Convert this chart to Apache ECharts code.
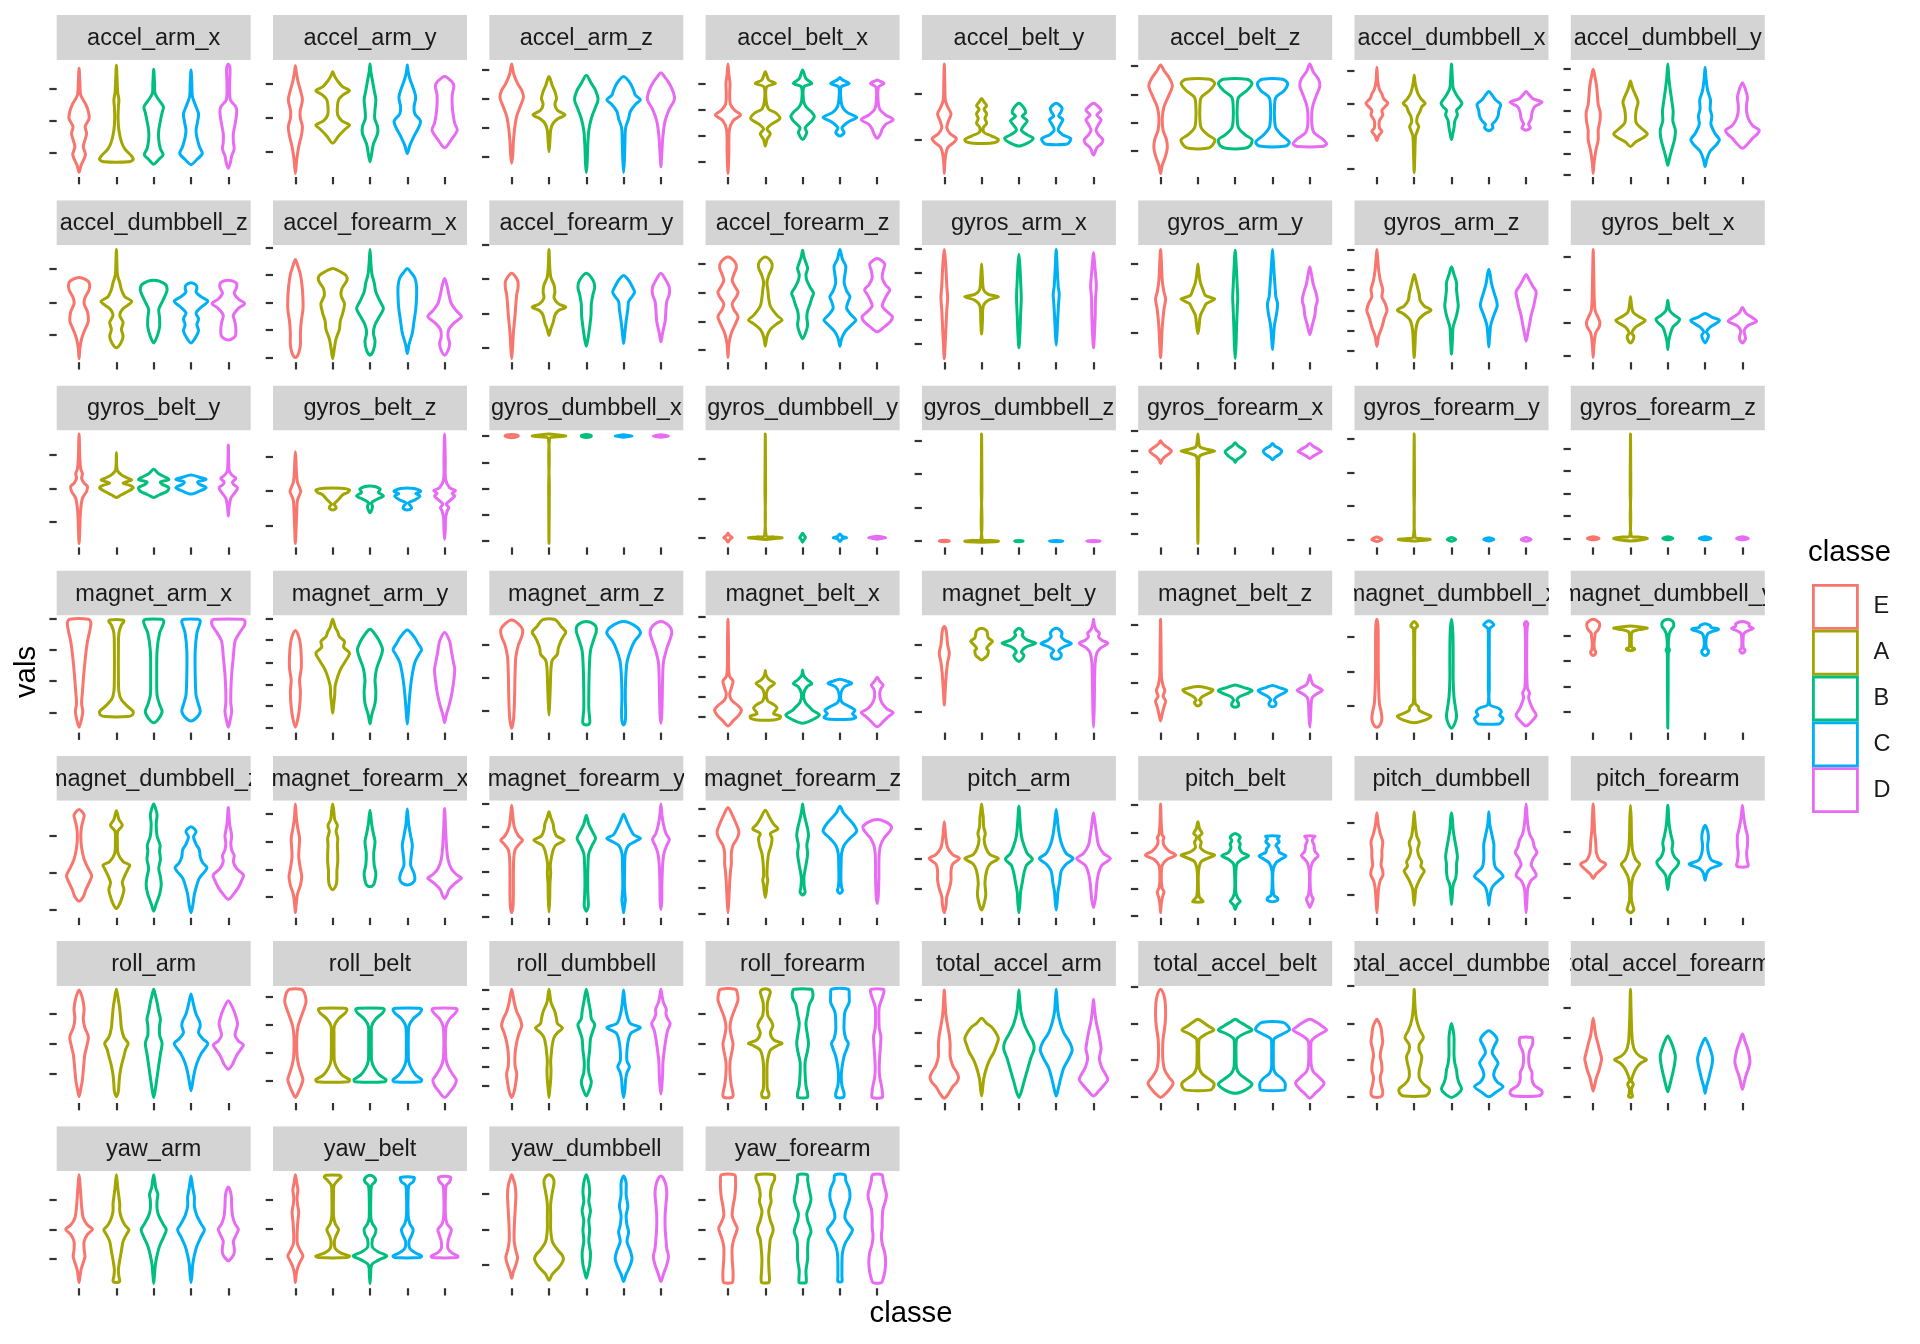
<!DOCTYPE html>
<html><head><meta charset="utf-8">
<script src="https://cdn.jsdelivr.net/npm/echarts@6/dist/echarts.min.js"></script>
<style>html,body{margin:0;padding:0;background:#fff}#c{width:1920px;height:1344px}</style>
</head><body><div id="c"></div>
<script>
const panels = ['accel_arm_x','accel_arm_y','accel_arm_z','accel_belt_x','accel_belt_y','accel_belt_z','accel_dumbbell_x','accel_dumbbell_y',
'accel_dumbbell_z','accel_forearm_x','accel_forearm_y','accel_forearm_z','gyros_arm_x','gyros_arm_y','gyros_arm_z','gyros_belt_x',
'gyros_belt_y','gyros_belt_z','gyros_dumbbell_x','gyros_dumbbell_y','gyros_dumbbell_z','gyros_forearm_x','gyros_forearm_y','gyros_forearm_z',
'magnet_arm_x','magnet_arm_y','magnet_arm_z','magnet_belt_x','magnet_belt_y','magnet_belt_z','magnet_dumbbell_x','magnet_dumbbell_y',
'magnet_dumbbell_z','magnet_forearm_x','magnet_forearm_y','magnet_forearm_z','pitch_arm','pitch_belt','pitch_dumbbell','pitch_forearm',
'roll_arm','roll_belt','roll_dumbbell','roll_forearm','total_accel_arm','total_accel_belt','total_accel_dumbbell','total_accel_forearm',
'yaw_arm','yaw_belt','yaw_dumbbell','yaw_forearm'];
const classes = ['E','A','B','C','D'];
const classColors = ['#F8766D','#A3A500','#00BF7D','#00B0F6','#E76BF3'];
const xTicks = [1,2,3,4,5];
// y tick positions (percent of each free y range)
const yTicks = [
[75.8,48.4,21.1],[80,50.7,21.4],[91.5,66.7,42.2,17.4],[80,57.8,35.3,13.1],[70.9,31.6],[94.9,70.7,46.4,22.2],[90.9,63,35,6.8],[92.9,74.9,56.7,38.7,20.2,2.3],
[79.5,51,23.1],[98,74.4,51,27.4,4],[100,70.9,41.6,12.3],[84.3,59.5,35,10.3],[96.6,76.6,55.8,35.9,15.4],[83.8,54.4,25.4],[95.7,78.6,61.5,43.9,26.8,9.7],[90,61.5,33.6,5.4],
[78.9,50.4,21.9],[77.5,48.1,18.2],[95.2,72.6,50.4,28.2,6],[76,41.9,8.3],[91.2,62.7,33.9,5.4],[99.7,82.3,64.7,47,29,11.4],[92.6,64.1,35.3,6.8],[84,65.2,46.2,26.8,7.7],
[97.7,70.7,44.2,17.1],[97.7,79.2,60.1,41.3,22.8,4.3],[75.5,47.3,18.8],[99,82,65,47.9,30.8,13.7],[75.5,47,18],[92,67,42.2,17.1],[82,52.1,22.8],[82.6,61.3,39.3,17.4],
[70.4,38.5,6.6],[88.6,65,41.3,18],[97.7,77.8,58.7,39.3,19.9,0.9],[92.9,70.4,48.4,25.9,3.7],[76.4,50.7,25.1],[96.3,72.6,48.7,25.1,1.4],[81.5,50.7,19.9],[73.5,45.9,17.4],
[76.6,51,25.4],[90.9,67.2,43,19.1],[97.2,80.9,63.8,47.6,31,14.5],[76.6,51,25.4],[88.6,60.1,31.9,3.4],[99.4,68.1,36.8,5.4],[100,68.1,36.8,5.4],[81.5,56.1,30.5,5.4],
[75.5,49.9,24.8],[76,50.4,25.4],[80.3,49.6,19.9],[76,49.9,24.8]];

// violin profiles: flat [y, halfWidth, y, halfWidth, ...], y in % of panel range, halfWidth relative (1 = widest)
const violinE = [
[4,0,10,0.12,19,0.38,26,0.25,37,0.45,43,0.36,50,0.6,56,0.55,62,0.4,70,0.1,80,0.05,93,0],
[3,0,15,0.08,26,0.2,35,0.35,43,0.42,50,0.3,56,0.28,66,0.42,74,0.3,82,0.15,90,0.05,95,0],
[11.7,0,20,0.07,30,0.1,42,0.18,52,0.3,60,0.5,68,0.7,74,0.6,80,0.35,88,0.12,96.6,0],
[3,0,20,0.05,40,0.08,48,0.3,53,0.75,57,0.4,62,0.15,70,0.1,80,0.12,88,0.05,96.6,0],
[3,0,15,0.05,25,0.2,30,0.6,33,0.72,37,0.35,42,0.15,48,0.25,54,0.4,60,0.2,66,0.06,80,0.03,96.6,0],
[3,0,10,0.1,18,0.3,25,0.4,32,0.35,40,0.15,50,0.1,60,0.2,70,0.5,78,0.7,85,0.5,91,0.2,95.7,0],
[31,0,35,0.1,39,0.3,42,0.15,48,0.15,53,0.35,57,0.3,63,0.65,67,0.4,71,0.3,75,0.15,82,0.05,93.7,0],
[3,0,12,0.05,22,0.15,32,0.3,40,0.3,48,0.4,55,0.42,62,0.3,70,0.25,78,0.2,86,0.1,92,0],
[3,0,12,0.05,20,0.15,28,0.35,35,0.55,43,0.5,50,0.3,55,0.35,62,0.6,68,0.6,71,0.35,72.5,0],
[4,0,8,0.2,15,0.3,25,0.3,35,0.35,45,0.45,55,0.45,65,0.4,75,0.3,82,0.15,87.7,0],
[3,0,12,0.05,25,0.1,40,0.2,50,0.25,58,0.3,64,0.38,70,0.35,76,0],
[4,0,15,0.05,25,0.2,33,0.45,39,0.6,45,0.35,50,0.25,56,0.5,60,0.6,65,0.4,70,0.25,75,0.35,81,0.5,86,0.4,90,0],
[3,0,15,0.05,30,0.1,45,0.15,55,0.2,65,0.15,80,0.1,90,0.05,96.3,0],
[4,0,15,0.05,30,0.1,45,0.2,54,0.3,60,0.2,70,0.1,85,0.05,96.3,0],
[13.7,0,22,0.1,30,0.3,38,0.45,44,0.6,50,0.5,56,0.3,62,0.35,70,0.2,80,0.1,88,0.05,96.3,0],
[4,0,15,0.05,25,0.15,30,0.35,34,0.4,38,0.3,44,0.12,55,0.06,70,0.04,85,0.02,96.3,0],
[3.4,0,15,0.04,30,0.08,42,0.2,48,0.45,52,0.5,55,0.3,59,0.15,63,0.2,67,0.1,75,0.05,96.9,0],
[3.4,0,15,0.04,30,0.08,40,0.12,45,0.25,48,0.32,51,0.25,56,0.12,65,0.06,75,0.03,81.8,0],
[93.8,0,94.5,0.3,95.2,0.4,96,0.3,96.6,0],
[4.5,0,7,0.12,8.3,0.25,10,0.1,12,0],
[4.8,0,5.4,0.3,6.1,0],
[71.8,0,75,0.1,78,0.3,80,0.5,82.3,0.65,84.5,0.5,86.5,0.3,89,0.1,91.2,0],
[5,0,6.2,0.25,6.8,0.3,7.5,0.25,8.8,0],
[6.5,0,7.7,0.35,9,0],
[4.6,0,10,0.12,18,0.22,25,0.15,35,0.2,50,0.28,65,0.38,78,0.5,88,0.65,94,0.7,96.9,0.55],
[4.6,0,12,0.15,22,0.25,35,0.3,45,0.25,55,0.35,65,0.35,75,0.3,82,0.2,87.2,0],
[3.7,0,10,0.1,20,0.15,35,0.18,50,0.2,65,0.25,75,0.4,82,0.6,88,0.65,93,0.4,96.3,0],
[5.7,0,10,0.3,15,0.65,19.4,0.8,23,0.6,28,0.2,33,0.1,38,0.2,44,0.3,48,0.1,55,0.04,75,0.03,96.9,0],
[23.6,0,35,0.05,50,0.12,60,0.2,67.8,0.3,75,0.2,83,0.15,88,0.1,90.6,0],
[10,0,16,0.1,22,0.2,27,0.3,31,0.15,36,0.25,40,0.15,48,0.05,70,0.03,96.9,0],
[4.6,0,7,0.2,12,0.3,18,0.25,25,0.15,40,0.1,60,0.08,80,0.08,92,0.06,96.9,0],
[65.8,0,67,0.12,69,0.15,71,0.08,76,0.05,82,0.1,85,0.12,88,0.3,91,0.38,94,0.35,96.9,0],
[14.2,0,18,0.25,24,0.4,30,0.6,36,0.75,42,0.55,50,0.3,60,0.15,70,0.1,78,0.15,84,0.25,88,0.3,92.6,0],
[4.3,0,12,0.05,20,0.12,28,0.3,35,0.38,42,0.3,52,0.2,60,0.22,68,0.25,76,0.15,85,0.06,97.2,0],
[4.3,0,10,0.08,20,0.1,35,0.1,50,0.12,58,0.2,63,0.45,66.4,0.65,70,0.4,78,0.15,88,0.06,96.3,0],
[4.3,0,15,0.05,30,0.1,40,0.15,46,0.2,55,0.2,62,0.3,68,0.55,73.5,0.65,80,0.5,88,0.25,94.3,0],
[4.3,0,10,0.1,18,0.15,25,0.3,32,0.4,40,0.4,46,0.5,50.7,0.9,54,0.5,60,0.2,70,0.08,82,0],
[4.3,0,12,0.04,18,0.12,22,0.2,26,0.08,35,0.04,45,0.1,50,0.4,53.6,0.9,57,0.5,62,0.2,66,0.15,68.4,0.2,71,0.1,80,0.04,97.2,0],
[4.3,0,15,0.05,25,0.1,32,0.2,36,0.35,40,0.35,45,0.25,52,0.3,58,0.3,65,0.35,72,0.2,80,0.08,89.7,0],
[33.6,0,37,0.15,41,0.45,45.9,0.75,49,0.4,55,0.2,65,0.15,75,0.08,85,0.05,97.2,0],
[5.4,0,12,0.1,20,0.2,28,0.25,36,0.3,42,0.35,48,0.45,56.7,0.55,64,0.35,72,0.25,80,0.3,86,0.25,92,0.15,96.6,0],
[4.8,0,10,0.2,15,0.35,20,0.45,25,0.35,32,0.2,40,0.1,55,0.08,65,0.15,72,0.3,80,0.5,86,0.63,91,0.6,95,0.5,97.2,0.35],
[4.8,0,10,0.15,18,0.25,25,0.3,32,0.2,42,0.2,52,0.3,60,0.45,66,0.6,72,0.5,78,0.3,86,0.15,97.2,0],
[4.8,0.25,8,0.3,15,0.2,25,0.12,35,0.12,45,0.25,51,0.3,57,0.2,65,0.12,72,0.2,80,0.4,88,0.6,94,0.55,97.2,0.45],
[4,0,8,0.25,14,0.5,18,0.75,22,0.85,26,0.75,32,0.5,40,0.35,50,0.35,58,0.3,66,0.2,75,0.1,85,0.05,96.6,0],
[4.8,0,8,0.3,12,0.55,17,0.75,22,0.5,28,0.25,35,0.15,45,0.12,55,0.15,65,0.25,75,0.3,85,0.28,92,0.2,97.2,0],
[4.6,0,6,0.3,10,0.35,16,0.25,22,0.2,28,0.3,34,0.28,40,0.2,46,0.25,52,0.35,58,0.3,64,0.25,68,0.15,71.5,0],
[10.3,0,16,0.1,22,0.2,28,0.35,34,0.45,38,0.5,44,0.4,50,0.3,58,0.15,65,0.08,72.4,0],
[4.8,0,10,0.05,16,0.12,22,0.25,27,0.35,33,0.3,40,0.3,46,0.5,50.4,0.8,54,0.5,60,0.25,70,0.15,80,0.1,90,0.05,96.9,0],
[4.8,0,12,0.05,18,0.15,23,0.3,27.6,0.45,32,0.3,38,0.12,45,0.1,52,0.12,58,0.15,65,0.2,72,0.12,78,0.1,84,0.15,90,0.08,96.9,0],
[8.5,0,14,0.1,20,0.25,26,0.35,32,0.25,40,0.15,50,0.15,60,0.18,70,0.22,80,0.25,88,0.2,93,0.1,96.9,0],
[4.8,0.25,8,0.3,15,0.3,25,0.25,35,0.25,42,0.35,48,0.5,51.6,0.55,56,0.4,62,0.25,70,0.3,78,0.4,86,0.45,92,0.45,96.9,0.4]];

const violinA = [
[13,0.75,15,1.0,18,0.9,24,0.5,30,0.3,40,0.15,50,0.1,60,0.12,66,0.15,72,0.08,80,0.05,95.5,0],
[28.8,0,35,0.35,41,0.75,44.4,1.0,48,0.55,53,0.3,60,0.28,66,0.35,70,0.6,73.8,1.0,77,0.6,82,0.3,86,0.12,90,0],
[21.6,0,30,0.05,40,0.1,46,0.25,50,0.55,53,0.95,57,0.5,62,0.35,67,0.45,73,0.35,78,0.2,85.8,0],
[26.5,0,32,0.1,37,0.3,41,0.1,45,0.35,50,0.87,55,0.6,58,0.2,65,0.05,77,0.08,80,0.6,83,0.2,90,0],
[28.8,0.5,30,0.9,32,1.0,35,0.6,38,0.15,42,0.1,46,0.3,50,0.2,54,0.3,58,0.15,61,0.3,64,0.15,67,0],
[24.5,0.55,27,0.85,32,1.0,36,0.6,42,0.2,50,0.12,60,0.12,68,0.2,74,0.7,80,1.0,83.5,0.7],
[3.7,0,20,0.04,35,0.08,40,0.2,43,0.27,47,0.15,52,0.2,56,0.35,60,0.45,63,0.65,67,0.4,72,0.2,80,0.06,87,0],
[26,0,30,0.3,34,0.8,37,1.0,41,0.7,46,0.35,52,0.3,58,0.35,64,0.45,70,0.3,76,0.12,82,0],
[12.3,0,16,0.25,22,0.4,28,0.3,34,0.4,40,0.2,45,0.35,49,0.7,52,0.92,56,0.5,62,0.3,68,0.2,75,0.06,85,0.03,96.3,0],
[3,0,12,0.1,20,0.2,28,0.4,35,0.45,42,0.6,50,0.7,57,0.5,63,0.55,70,0.85,74,0.8,77,0.5,80,0],
[23,0,28,0.1,34,0.25,40,0.35,44,0.55,47,1.0,50,0.55,55,0.3,60,0.35,66,0.3,72,0.12,80,0.05,96.3,0],
[13.7,0,22,0.1,28,0.3,33,0.7,36,1.0,40,0.7,48,0.3,55,0.2,62,0.15,68,0.1,74,0.2,81,0.4,86,0.35,90,0],
[24,0,35,0.05,48,0.1,53,0.4,56,1.0,58,0.4,62,0.12,72,0.05,84,0],
[24.5,0,32,0.08,40,0.15,46,0.35,50,0.5,54,1.0,57,0.45,62,0.3,68,0.15,76,0.06,84,0],
[4,0,15,0.05,28,0.1,36,0.25,41,0.6,44.5,1.0,48,0.6,53,0.35,58,0.3,64,0.2,70,0.1,75,0],
[16.5,0,19,0.15,22,0.2,25,0.08,30,0.3,34,0.75,36,0.87,39,0.5,43,0.15,50,0.05,56,0],
[42.7,0,45,0.3,48,0.7,51,1.0,53,0.8,55,0.4,57.5,0.9,59,0.7,62,0.3,66,0.05,81,0],
[32,0,33.5,0.2,35,0.18,37,0.08,41,0.35,45,0.6,47,0.9,49,1.0,50.5,0.5],
[3.4,0,50,0.02,93,0.04,94.5,0.5,95.2,1.0,96,0.6,96.9,0],
[6.8,0,7.6,0.6,8.3,1.0,9,0.5,10,0.05,50,0.02,96.9,0],
[4.5,0,4.8,0.8,5.4,1.0,6,0.6,7,0.04,50,0.02,96.9,0],
[3.4,0,30,0.02,70,0.04,78,0.1,80.5,0.5,82.3,1.0,84,0.5,86,0.12,90,0.05,96.9,0],
[5.5,0,6.2,0.7,6.8,0.95,7.5,0.5,9,0.05,50,0.02,96.9,0],
[5.5,0,6.5,0.7,7.7,1.0,8.8,0.5,10,0.04,50,0.02,96.9,0],
[13.7,0.7,15,0.95,18,1.0,22,0.7,28,0.3,35,0.15,50,0.12,70,0.12,85,0.15,92,0.3,95,0.45,96.3,0.4],
[16.5,0,24,0.06,32,0.12,40,0.15,48,0.3,55,0.5,62,0.8,68,1.0,73,0.65,78,0.7,82,0.4,86,0.3,90,0.15,96.9,0],
[15,0,25,0.04,40,0.08,55,0.12,62,0.2,67,0.5,72,0.55,78,0.7,82,0.85,86,1.0,91,0.7,95,0.5,96.9,0.3],
[10.8,0.5,12,0.85,14,0.9,16,0.5,18,0.55,21,0.7,24,0.5,27,0.15,33,0.06,38,0.2,42,0.55,45,0.25,49,0.05,53,0],
[62,0,64,0.2,66,0.35,70,0.4,72,0.3,75,0.45,78,0.65,81,0.4,84,0.35,87,0.3,89.2,0],
[22.8,0,24,0.15,26,0.2,28,0.1,31,0.3,34,0.7,36.5,0.9,38.3,0.5,39.3,0],
[8.5,0,10,0.5,13.7,1.0,16,0.7,19,0.3,22,0.25,25,0.06,40,0.03,80,0.03,89,0.06,91,0.2,93,0.15,95,0],
[70,0,70.8,0.2,71.6,0.25,73,0.08,80,0.05,86,0.1,88,0.5,89.2,1.0,90.2,0.6,91.2,0],
[8,0,12,0.2,18,0.35,24,0.45,30,0.35,36,0.5,42,0.7,45,0.8,48,0.4,55,0.1,65,0.06,74,0.08,79,0.35,84,0.15,91.5,0],
[24,0,28,0.2,33,0.25,40,0.25,48,0.3,55,0.3,62,0.28,68,0.3,74,0.2,79,0.28,84,0.12,92,0.06,97.2,0],
[5,0,15,0.04,30,0.06,38,0.1,45,0.08,52,0.15,58,0.25,62,0.4,66.4,0.9,70,0.45,75,0.3,80,0.25,86,0.1,90.6,0],
[17.4,0,22,0.06,28,0.1,32,0.15,36,0.1,45,0.12,55,0.2,62,0.35,68,0.4,72,0.3,76,0.75,80,0.5,86,0.25,92,0],
[6.6,0,12,0.15,20,0.25,30,0.2,40,0.3,46,0.5,50.7,1.0,54,0.5,60,0.25,67,0.15,72,0.22,78,0.12,86,0.1,90,0.06,97.2,0],
[13.7,0.3,15,0.25,18,0.08,25,0.03,40,0.04,48,0.2,51,0.6,53.6,1.0,56,0.5,60,0.15,65,0.2,67,0.1,70,0.1,72,0.25,76,0.1,82,0],
[10.8,0,18,0.05,25,0.1,32,0.3,36,0.45,40,0.6,44,0.4,48,0.45,52,0.3,58,0.2,64,0.3,70,0.15,80,0.06,90.6,0],
[4.3,0,7,0.2,10,0.15,15,0.06,25,0.05,35,0.15,42,0.4,45.9,0.55,50,0.3,58,0.12,70,0.06,85,0.04,96.3,0],
[5.4,0,10,0.12,16,0.15,24,0.2,32,0.3,40,0.45,46,0.55,51,0.7,56,0.45,64,0.3,72,0.25,80,0.2,88,0.12,97.2,0],
[18.2,0.95,20,1.0,24,0.55,30,0.25,36,0.1,45,0.08,58,0.08,66,0.1,72,0.35,77,0.75,80,0.85,81,0.7],
[4.8,0,12,0.05,20,0.1,28,0.12,36,0.1,44,0.15,50,0.2,56,0.3,60,0.5,64,0.8,68,0.5,72,0.45,78,0.35,86,0.12,97.2,0],
[4.8,0.15,8,0.22,12,0.12,22,0.1,35,0.12,45,0.3,49,0.7,51,1.0,54,0.5,60,0.3,66,0.45,70,0.35,75,0.15,85,0.12,92,0.25,95,0.3,97.2,0.15],
[6,0,12,0.06,20,0.12,28,0.25,36,0.45,44,0.75,50,0.9,55,1.0,60,0.85,65,0.6,68,0.3,72.4,0],
[11,0.7,13,0.9,17,0.95,21,0.6,25,0.25,30,0.08,40,0.05,50,0.05,55,0.1,59,0.5,62.4,0.95,66,0.6,69,0.3,71.5,0],
[6,0.6,8,0.85,12,0.9,17,0.5,22,0.3,28,0.3,34,0.4,40,0.45,45,0.3,50,0.3,56,0.55,62,0.35,68,0.2,75,0.1,85,0.04,97.2,0],
[4.8,0,5.5,0.12,8,0.08,12,0.06,16,0.17,19,0.06,24,0.15,30,0.35,34,0.6,37,0.95,40,0.55,45,0.25,52,0.12,60,0.08,75,0.04,97.2,0],
[4.8,0,6,0.2,10,0.15,16,0.12,24,0.2,32,0.3,40,0.4,46,0.6,50,0.75,54,0.5,60,0.3,66,0.2,72,0.2,78,0.15,86,0.08,96.9,0],
[26.2,0.85,27.5,1.0,30,0.5,34,0.15,40,0.1,45,0.2,50,0.35,55,0.15,62,0.05,80,0.05,88,0.08,92,0.3,95,0.5,96.5,0.4],
[6.8,0,12,0.2,18,0.6,24,0.85,28,0.8,33,0.5,40,0.2,50,0.1,60,0.1,72,0.1,82,0.2,90,0.3,94,0.25,96.9,0],
[4.8,0.2,8,0.25,15,0.22,25,0.2,35,0.25,42,0.3,48,0.45,52,0.45,58,0.3,66,0.2,74,0.35,80,0.3,88,0.4,93,0.55,96.9,0.5]];

const violinB = [
[11,0,15,0.3,19,0.56,24,0.4,32,0.3,40,0.3,48,0.4,55,0.5,60,0.58,66,0.3,71.5,0.08,80,0.05,92,0],
[13,0,20,0.1,28,0.2,37,0.45,43,0.45,50,0.28,58,0.3,66,0.35,74,0.25,82,0.15,90,0.05,96.5,0],
[3.7,0,12,0.05,25,0.08,40,0.15,50,0.3,58,0.5,66,0.7,74,0.55,80,0.3,87,0],
[32,0,38,0.25,42,0.15,48,0.55,52,0.7,56,0.5,60,0.2,66,0.05,77,0.08,80,0.55,84,0.2,91.5,0],
[26.5,0,29,0.5,33,0.85,36,0.5,40,0.15,44,0.3,48,0.5,52,0.2,55,0.4,59,0.3,63,0],
[24.5,0.55,27,0.9,32,1.0,36,0.6,42,0.2,50,0.12,60,0.12,68,0.2,74,0.7,80,1.0,83.5,0.7],
[32,0,37,0.08,42,0.15,48,0.2,53,0.35,57,0.3,60,0.5,63,0.62,66,0.5,70,0.3,76,0.1,85,0.05,96.6,0],
[10,0,16,0.1,24,0.25,32,0.4,40,0.45,48,0.3,56,0.32,64,0.25,74,0.15,85,0.06,96.6,0],
[16.5,0,22,0.2,30,0.35,38,0.35,45,0.3,50,0.45,56,0.65,62,0.8,67,0.65,70,0],
[6,0,10,0.2,18,0.3,25,0.2,32,0.3,40,0.6,46,0.8,52,0.6,60,0.35,68,0.25,75,0.12,85,0.05,96.3,0],
[13.7,0,20,0.1,30,0.2,40,0.28,50,0.3,58,0.4,64,0.5,70,0.4,76,0],
[20,0,26,0.2,32,0.3,38,0.25,44,0.3,50,0.45,55,0.55,59,0.65,64,0.45,70,0.25,75,0.2,80,0.3,85,0.2,90,0.08,95.7,0],
[12.3,0,25,0.06,40,0.1,55,0.14,70,0.1,82,0.06,92.3,0],
[3,0,15,0.05,30,0.08,45,0.12,55,0.15,65,0.12,80,0.07,95.7,0],
[6.8,0,18,0.05,30,0.1,40,0.3,48,0.4,55,0.35,62,0.3,68,0.3,75,0.15,81.5,0],
[10.8,0,18,0.05,24,0.15,30,0.3,34,0.6,37,0.7,40,0.4,44,0.12,48,0.05,53,0],
[42.7,0,45,0.35,48,0.8,51,0.9,54,0.5,56,0.4,58,0.9,60,0.7,63,0.3,66.7,0],
[29.6,0,32,0.1,35,0.15,38,0.08,41,0.4,44,0.8,47,0.5,50,0.6,52.4,0],
[94,0,94.6,0.25,95.2,0.3,95.8,0.25,96.4,0],
[4.5,0,7,0.1,8.3,0.17,10,0.1,12,0],
[4.8,0,5.4,0.25,6,0],
[72.6,0,75,0.1,78,0.4,81.8,0.6,84.5,0.4,87,0.15,89.5,0],
[5.3,0,6.3,0.2,6.8,0.25,7.4,0.2,8.5,0],
[6.5,0,7.7,0.3,9,0],
[8.5,0,12,0.3,18,0.5,24,0.35,32,0.2,50,0.18,70,0.2,85,0.35,92,0.55,95.5,0.6,96.9,0.45],
[7.4,0,15,0.1,25,0.3,35,0.35,45,0.3,55,0.4,65,0.65,71,0.75,77,0.6,83,0.35,88.3,0],
[6.5,0,8,0.2,12,0.2,20,0.15,35,0.15,55,0.18,70,0.25,80,0.45,87,0.6,92,0.5,94.9,0],
[8,0,11,0.6,15,1.0,19,0.6,22,0.4,26,0.15,33,0.06,39,0.25,42,0.55,45,0.3,49,0.05,53.6,0],
[60.7,0,63,0.2,66,0.3,69,0.15,73,0.4,76.4,1.0,79,0.5,83,0.2,86,0.25,89.2,0],
[21.7,0,23,0.2,25,0.2,28,0.1,31,0.3,34,0.8,36,1.0,38.5,0.5,40.7,0],
[3.7,0,8,0.2,14,0.3,20,0.25,30,0.15,45,0.1,65,0.1,85,0.08,96.9,0],
[3.7,0,40,0.02,68,0.03,70.7,0.1,73,0.03,84,0.08,88,0.2,91,0.35,95,0.3,96.9,0],
[5.7,0,12,0.15,20,0.35,28,0.45,35,0.4,42,0.3,50,0.4,57,0.35,62,0.38,70,0.2,80,0.15,88,0.2,93,0.12,97.2,0],
[26.5,0,28,0.2,32,0.3,38,0.35,45,0.25,55,0.22,65,0.3,72,0.2,80,0.1,92,0],
[5.7,0,10,0.12,18,0.1,30,0.08,45,0.1,55,0.15,62,0.35,68,0.55,74,0.35,80,0.15,87.7,0],
[19.4,0,22,0.15,26,0.1,35,0.08,45,0.2,55,0.3,62,0.25,70,0.35,76,0.3,85,0.15,92,0.05,97.2,0],
[4.3,0,12,0.06,22,0.1,30,0.2,38,0.3,45,0.45,50,0.8,55,0.5,62,0.3,70,0.15,80,0.08,95.4,0],
[7,0,11,0.1,14,0.3,17,0.15,22,0.04,35,0.03,46,0.1,50,0.4,53,0.8,56,0.4,60,0.25,63,0.3,66,0.2,69,0.3,72,0],
[11.4,0,20,0.05,28,0.1,34,0.25,40,0.3,46,0.3,52,0.35,58,0.3,66,0.2,75,0.1,85,0.05,89.7,0],
[24,0,30,0.06,36,0.12,40,0.3,44,0.55,47.9,0.65,52,0.4,58,0.25,64,0.3,70,0.2,80,0.08,96.3,0],
[4.8,0,12,0.1,22,0.2,32,0.3,42,0.4,51,0.5,58,0.35,66,0.35,72,0.4,78,0.3,86,0.2,92,0.1,97.2,0],
[18.2,0.9,20,0.95,24,0.55,30,0.25,36,0.1,45,0.08,58,0.08,66,0.1,72,0.35,77,0.75,80,0.85,81,0.7],
[6,0,12,0.2,18,0.3,26,0.15,35,0.12,45,0.2,55,0.25,62,0.4,67,0.5,72,0.3,78,0.25,86,0.15,97.2,0],
[4.8,0.28,8,0.3,15,0.2,25,0.15,35,0.15,45,0.3,51,0.35,57,0.3,68,0.2,76,0.3,84,0.4,90,0.6,95,0.6,97.2,0.5],
[4.8,0,10,0.15,18,0.3,28,0.5,38,0.7,46,0.9,52,0.85,60,0.55,68,0.3,78,0.12,88,0.05,96.6,0],
[8.3,0,11,0.6,16,1.0,20,0.7,25,0.25,30,0.08,40,0.05,50,0.05,55,0.1,59,0.5,62.4,1.0,66,0.65,69,0.3,71.5,0],
[4.8,0,8,0.4,12,0.6,17,0.45,22,0.35,28,0.3,34,0.2,40,0.15,48,0.15,56,0.15,62,0.1,68,0],
[9.7,0,14,0.1,20,0.2,26,0.3,33,0.4,40,0.45,46,0.35,52,0.2,57.3,0],
[4,0,12,0.05,20,0.1,28,0.2,36,0.35,44,0.6,50,0.75,55,0.55,62,0.3,68,0.2,75,0.2,80,0.25,86,0.12,96.9,0],
[4,0,12,0.04,20,0.1,24,0.5,27.6,1.0,31,0.5,35,0.15,42,0.15,46,0.3,50.4,0.35,55,0.15,60,0.05,80,0.05,88,0.1,91,0.3,94,0.3,96.5,0],
[8.5,0,14,0.1,20,0.2,30,0.25,40,0.15,50,0.2,58,0.15,66,0.25,74,0.15,82,0.2,90,0.15,96.9,0],
[4.8,0.2,8,0.22,15,0.2,25,0.3,35,0.3,42,0.35,48,0.5,52,0.45,58,0.3,64,0.25,70,0.4,76,0.5,84,0.4,92,0.3,96.9,0.28]];

const violinC = [
[10.5,0,15,0.35,20,0.67,26,0.5,34,0.35,40,0.3,48,0.4,54,0.45,60,0.3,69,0.08,80,0.05,91.5,0],
[20,0,27,0.15,35,0.4,43,0.7,48,0.78,54,0.45,60,0.4,68,0.5,76,0.35,84,0.15,90,0.05,95.7,0],
[3.7,0,15,0.05,30,0.08,42,0.12,50,0.3,56,0.4,62,0.7,66,1.0,70,0.7,74,0.6,80,0.4,85.8,0],
[35,0,38,0.25,42,0.12,47,0.5,51,1.0,55,0.45,60,0.15,68,0.05,77,0.08,80,0.55,83,0.15,85,0],
[28,0.6,30,0.8,33,0.85,36,0.4,40,0.12,45,0.25,49,0.4,52,0.15,56,0.3,59,0.35,63,0],
[26.5,0.8,30,1.0,35,0.6,42,0.2,50,0.12,60,0.12,68,0.2,74,0.7,80,0.9,83.5,0.6],
[39.6,0,42,0.25,45,0.2,48,0.4,52,0.55,57,0.6,62,0.7,66,0.4,70,0.2,73,0],
[8.8,0,15,0.1,22,0.3,28,0.7,32,0.85,37,0.6,45,0.35,52,0.4,58,0.3,66,0.32,74,0.15,85,0.05,93.7,0],
[16.5,0,22,0.3,27,0.45,32,0.35,37,0.45,42,0.3,47,0.6,52,1.0,56,0.6,60,0.3,63,0.35,66,0.3,68,0],
[7.4,0,15,0.1,25,0.3,35,0.4,45,0.5,55,0.55,65,0.55,72,0.45,77,0.2,80,0],
[16,0,22,0.05,35,0.15,45,0.25,52,0.3,56,0.5,60,0.65,65,0.5,70,0.3,74,0],
[13.7,0,20,0.1,26,0.3,32,0.7,36,0.95,40,0.7,46,0.4,52,0.5,56,0.6,61,0.4,68,0.25,75,0.3,82,0.35,88,0.15,96.3,0],
[14.5,0,25,0.05,40,0.1,52,0.15,58,0.18,65,0.12,80,0.06,96.3,0],
[10.8,0,20,0.05,32,0.12,42,0.25,50,0.3,56,0.2,65,0.15,75,0.1,86,0.05,96.3,0],
[13,0,22,0.05,32,0.12,42,0.35,48,0.5,53,0.45,60,0.3,68,0.15,75,0.08,79.5,0],
[16.5,0,20,0.15,23,0.2,26,0.08,30,0.3,34,0.75,36,0.85,38.5,0.4,41.6,0],
[45.6,0,48,0.5,51,0.9,54,0.5,56,0.4,58,0.9,60,0.5,61.8,0],
[32,0,33.5,0.25,35.5,0.2,38,0.08,41,0.5,44,0.75,46,0.5,48,0.8,50.4,0.4],
[94.2,0,94.8,0.3,95.2,0.5,95.6,0.3,96.2,0],
[5,0,7.5,0.15,8.3,0.4,9.3,0.15,11.5,0],
[4.8,0,5.4,0.4,6,0],
[75,0,77,0.15,80,0.45,82.3,0.55,84.5,0.4,86.5,0.15,88.9,0],
[5.5,0,6.8,0.3,8.2,0],
[6.5,0,7.7,0.35,9,0],
[10,0,13,0.35,18,0.55,24,0.45,32,0.3,50,0.25,70,0.25,85,0.35,92,0.5,95.5,0.55,96.9,0.4],
[7.4,0,15,0.05,28,0.12,40,0.2,50,0.3,60,0.45,67,0.7,71,0.85,76,0.65,82,0.4,87.7,0],
[6.5,0,10,0.1,18,0.12,30,0.1,45,0.12,60,0.2,70,0.4,78,0.65,85,1.0,90,0.8,94.9,0],
[11.4,0.6,13,0.95,16,0.75,19,0.9,22,0.6,26,0.12,33,0.05,39,0.25,42,0.7,44,0.4,45.6,0],
[62.7,0,64,0.25,67,0.3,70,0.15,73,0.4,76,0.9,79,0.5,82,0.3,85,0.35,88,0.2,89.2,0],
[22,0,23.5,0.2,25.5,0.2,28,0.1,31,0.3,34,0.7,36,0.85,38.5,0.4,40.3,0],
[7.4,0.6,9,0.75,12,0.85,15,0.65,18,0.75,21,0.55,24,0.06,40,0.03,80,0.03,89,0.06,92,0.3,94,0.2,95.7,0],
[65.8,0,67,0.15,70,0.2,72,0.08,80,0.06,85,0.2,88.3,0.8,90,0.35,91.5,0.3,93,0],
[4.3,0,10,0.1,20,0.2,28,0.35,34,0.5,40,0.85,43,0.95,47,0.7,52,0.55,58,0.5,63,0.3,69,0.15,73.5,0.3,76,0.2,77.8,0],
[28,0,29.5,0.3,33,0.45,38,0.4,45,0.2,55,0.25,62,0.3,70,0.2,80,0.08,93,0],
[4.3,0,10,0.05,15,0.1,25,0.05,40,0.06,55,0.1,62,0.3,66,0.8,68,1.0,71,0.6,76,0.4,82,0.2,88.6,0],
[20.8,0,23,0.15,26,0.1,32,0.06,45,0.07,55,0.1,62,0.25,68,0.6,74,1.0,79,0.85,85,0.5,90,0.2,95.4,0],
[6.6,0,14,0.06,22,0.1,30,0.2,40,0.3,46,0.6,50.7,1.0,55,0.6,62,0.35,70,0.2,80,0.1,92.6,0],
[13.7,0,15,0.3,17,0.3,19,0.1,25,0.03,40,0.03,47,0.2,50,0.5,53,0.8,56,0.4,59,0.35,62,0.2,65,0.4,67.5,0.3,69.8,0.4],
[10.8,0,18,0.06,26,0.2,32,0.6,35,0.85,38,0.75,43,0.4,50,0.3,57,0.3,63,0.3,70,0.2,80,0.06,90.6,0],
[32,0,38,0.1,42,0.3,45.9,0.95,49,0.4,55,0.2,62,0.15,68,0.2,74,0.15,79,0],
[10.5,0,18,0.1,26,0.2,34,0.35,42,0.6,47,0.85,51,1.0,55,0.7,60,0.45,66,0.55,70,0.5,76,0.3,84,0.15,93.2,0],
[18.2,0.8,20,0.85,24,0.5,30,0.22,36,0.08,45,0.06,58,0.06,66,0.1,72,0.35,77,0.75,80,0.85,81,0.7],
[4.8,0,12,0.08,20,0.12,26,0.2,31,0.35,36,0.2,45,0.2,55,0.3,60,0.45,64.5,1.0,68,0.4,75,0.2,85,0.08,96.6,0],
[4.8,0.2,8,0.25,15,0.12,22,0.08,30,0.12,40,0.25,46,0.4,51,0.5,55,0.35,62,0.25,70,0.25,78,0.3,86,0.55,92,0.55,97.2,0.5],
[6,0,12,0.12,20,0.25,30,0.45,38,0.75,45,0.95,52,0.8,60,0.45,68,0.25,78,0.1,88,0.05,97.2,0],
[11,0.7,13,0.75,17,0.75,21,0.55,25,0.2,30,0.06,40,0.05,50,0.05,55,0.1,59,0.6,62.4,1.0,66,0.9,69,0.6],
[5.4,0,9,0.4,14,0.85,18,0.5,23,0.3,28,0.35,34,0.55,38,0.4,43,0.2,48,0.3,54,0.5,58,0.35,61.8,0],
[8.3,0,14,0.08,20,0.2,26,0.3,32,0.4,38,0.45,44,0.35,50,0.2,55.3,0],
[4.8,0,12,0.06,20,0.1,28,0.2,36,0.35,44,0.6,50,0.8,55,0.6,62,0.35,70,0.2,78,0.2,86,0.1,96,0],
[26.2,0.75,27.5,0.85,30,0.5,34,0.15,40,0.1,45,0.25,50,0.35,55,0.15,62,0.05,80,0.05,88,0.1,91,0.35,94.6,0.4],
[5.7,0,12,0.15,18,0.35,25,0.5,32,0.4,40,0.2,48,0.3,54,0.2,62,0.15,70,0.25,80,0.15,90,0.15,96,0],
[5.7,0.12,10,0.12,20,0.12,30,0.15,38,0.3,44,0.55,50,0.75,55,0.5,60,0.3,66,0.35,72,0.5,78,0.6,85,0.55,92,0.35,96.9,0.3]];

const violinD = [
[7.4,0,12,0.12,18,0.2,24,0.35,30,0.3,37,0.3,45,0.4,55,0.5,60,0.45,66,0.12,80,0.08,93,0.1,96.6,0],
[25,0,32,0.4,40,0.75,46,0.6,54,0.5,62,0.45,70,0.45,78,0.55,82,0.4,86,0],
[8.8,0,20,0.05,35,0.12,48,0.25,58,0.5,66,0.8,72,0.75,80,0.5,86,0.2,89,0],
[33,0,37,0.2,41,0.3,45,0.5,49,0.95,53,0.5,58,0.15,66,0.05,77,0.08,80,0.4,82,0.15,83,0],
[18.8,0,25,0.2,29,0.5,32,0.55,36,0.3,40,0.15,45,0.3,49,0.45,53,0.2,57,0.45,60,0.3,63,0],
[26,0.7,28,1.0,32,0.8,38,0.25,45,0.12,55,0.12,62,0.2,70,0.4,78,0.6,84,0.5,90,0.2,96.6,0],
[40,0,42,0.25,45,0.15,50,0.3,55,0.35,60,0.5,64,0.95,67,0.4,70,0.2,73,0],
[24.5,0,28,0.3,33,0.6,37,0.9,40,1.0,44,0.6,50,0.35,56,0.25,62,0.25,68,0.3,74,0.2,80.6,0],
[19,0,22,0.4,28,0.45,34,0.4,40,0.3,46,0.6,50,0.97,54,0.6,59,0.35,64,0.5,68,0.45,70,0],
[6,0,10,0.2,16,0.3,22,0.2,28,0.25,34,0.6,39,1.0,44,0.7,50,0.4,58,0.25,65,0.15,71.5,0],
[17.4,0,25,0.1,35,0.25,45,0.3,52,0.35,58,0.5,64,0.5,70,0.3,76,0],
[26,0,30,0.4,35,0.8,39,0.9,43,0.6,48,0.3,54,0.45,58,0.6,62,0.75,66,0.5,72,0.3,78,0.35,84,0.45,88.6,0],
[12.3,0,25,0.06,40,0.1,55,0.12,65,0.17,75,0.12,85,0.06,93.7,0],
[23.6,0,32,0.15,40,0.3,47,0.35,53,0.45,60,0.35,67,0.2,75,0.1,81.5,0],
[18,0,25,0.1,32,0.2,40,0.3,48,0.45,55,0.55,60,0.6,65,0.4,70,0.2,75,0],
[16.5,0,20,0.18,23,0.15,27,0.1,31,0.3,35,0.85,38,0.6,42,0.2,46.7,0],
[26.8,0,35,0.05,42,0.15,47,0.4,51,0.55,54,0.3,56,0.25,59,0.45,62,0.2,66,0.05,87.5,0],
[6.8,0,15,0.04,25,0.06,31,0.15,34,0.25,37,0.1,41,0.4,44,0.6,46,0.45,48.5,0.65,51,0.3,58,0.06,75,0.04,96.9,0],
[94.2,0,94.8,0.3,95.2,0.45,95.6,0.3,96.2,0],
[7,0,7.8,0.3,8.3,0.5,8.9,0.3,9.6,0],
[4.8,0,5.4,0.4,6,0],
[76,0,78,0.2,80.5,0.5,82,0.7,84,0.5,86.5,0.2,88.9,0],
[5.3,0,6.8,0.3,8.4,0],
[6.5,0,7.7,0.35,9,0],
[4.6,0,10,0.1,18,0.2,25,0.15,35,0.15,50,0.2,65,0.3,78,0.4,86,0.7,92,0.97,96.3,0.95,96.9,0.7],
[8.5,0,15,0.1,25,0.3,35,0.45,45,0.55,54,0.6,62,0.5,70,0.4,78,0.3,85.5,0],
[8,0,15,0.05,30,0.08,45,0.1,60,0.15,72,0.35,80,0.55,86,0.65,91,0.5,94.9,0],
[5,0,10,0.4,14,0.7,17,0.95,20,0.6,24,0.35,28,0.2,33,0.15,37,0.2,40.7,0.35,44,0.15,47.3,0],
[4.6,0,20,0.04,40,0.06,60,0.1,68,0.2,72,0.4,76.4,0.85,79,0.5,82,0.3,85,0.35,88,0.15,92,0.05,96.9,0],
[4.6,0,15,0.05,25,0.08,30,0.15,33,0.4,36,0.75,38.5,0.5,41,0.2,45,0.08,49.3,0],
[5.7,0,10,0.35,15,0.6,20,0.4,25,0.25,30,0.15,34,0.2,38,0.08,50,0.04,80,0.04,90,0.06,93,0.1,94.9,0],
[67.8,0,69,0.12,70.7,0.15,72.5,0.05,80,0.04,85,0.1,87.5,0.4,89,0.65,91,0.4,93,0.4,94.9,0],
[15.7,0,20,0.3,26,0.6,32,0.8,36.5,0.9,42,0.5,48,0.3,53,0.35,58,0.2,64,0.15,70,0.2,80,0.08,94.3,0],
[16.5,0,20,0.15,24,0.25,28,0.5,32,0.85,34,1.0,37,0.7,42,0.4,50,0.2,60,0.12,75,0.06,93.4,0],
[7,0,15,0.05,30,0.06,45,0.1,55,0.18,62,0.35,67,0.5,72,0.3,80,0.15,88,0.06,97.2,0],
[12.3,0,18,0.06,25,0.08,35,0.1,45,0.1,55,0.12,62,0.2,68,0.4,74,0.75,78,0.85,82,0.5,84,0],
[8.8,0,15,0.1,22,0.15,30,0.2,38,0.3,45,0.5,50.7,1.0,55,0.6,62,0.3,70,0.2,80,0.1,89.7,0],
[8.8,0,12,0.1,16,0.2,19,0.1,25,0.03,40,0.03,47,0.15,50,0.3,53,0.5,57,0.3,62,0.25,66,0.15,68,0.2,69.8,0.3],
[4.3,0,15,0.05,25,0.1,32,0.3,36,0.6,40,0.5,45,0.3,50,0.4,56,0.65,60,0.5,66,0.4,72,0.2,80,0.1,88,0.05,97.2,0],
[43.6,0.25,45,0.35,48,0.3,55,0.25,62,0.3,70,0.3,76,0.2,82,0.12,88,0.06,96.3,0],
[28.8,0,33,0.25,38,0.4,42,0.55,46,0.75,49.6,0.9,53,0.6,58,0.4,64,0.5,68,0.55,74,0.45,80,0.3,87.5,0],
[4.8,0,10,0.35,15,0.6,19.7,0.7,24,0.5,30,0.25,36,0.1,45,0.05,58,0.05,66,0.1,72,0.3,77,0.65,80,0.75,81,0.6],
[7.7,0,15,0.06,25,0.1,35,0.12,45,0.2,55,0.3,62,0.4,68,0.55,72,0.4,76,0.3,80,0.32,86,0.15,92,0.06,97.2,0],
[4.8,0.3,10,0.3,15,0.25,22,0.15,30,0.12,40,0.15,50,0.2,56.7,0.22,64,0.12,72,0.1,82,0.12,90,0.3,95,0.4,97.2,0.35],
[6,0,10,0.3,15,0.6,20,0.85,25,0.7,30,0.5,38,0.35,46,0.45,52,0.4,60,0.3,70,0.15,80,0.06,88.6,0],
[4,0,8,0.3,12,0.6,17,0.85,22,0.55,27,0.2,33,0.08,45,0.06,53,0.1,58,0.5,62.4,1.0,66,0.7,69,0.4,71.5,0],
[6,0.7,8,0.95,11,0.9,15,0.5,20,0.35,26,0.35,31,0.2,38,0.15,44,0.2,50,0.38,54,0.4,56,0.35],
[11.7,0,17,0.1,23,0.2,29,0.35,35,0.45,41,0.4,47,0.3,53,0.15,59,0],
[23.4,0,26,0.2,30,0.35,35,0.35,40,0.3,45,0.45,50.4,0.6,55,0.4,62,0.25,70,0.2,78,0.18,83,0.12,86.6,0],
[26.2,0.75,27.5,0.8,30,0.45,34,0.2,40,0.2,45,0.3,50,0.4,55,0.15,62,0.05,80,0.05,88,0.1,91,0.3,95,0.35],
[5.7,0,12,0.15,20,0.35,27,0.45,34,0.35,42,0.3,52,0.25,62,0.25,72,0.3,80,0.35,88,0.3,94,0.15,96,0],
[4.8,0.25,8,0.35,14,0.45,22,0.5,30,0.45,38,0.3,45,0.25,52,0.3,60,0.3,68,0.35,75,0.5,80,0.55,86,0.45,92,0.35,96.9,0.28]];

const profiles = [violinE, violinA, violinB, violinC, violinD];

const NCOL = 8, LEFT0 = 56.7, COLP = 216.3, PW = 194, TOP0 = 15, ROWP = 185.2, SH = 45, PH = 117;
const HALF = 0.45;
const FONT = '"Liberation Sans", Arial, Helvetica, sans-serif';

function violinRenderer(prof, color) {
  return function (params, api) {
    const x = api.value(0);
    const right = [], left = [];
    const n = prof.length / 2;
    for (let k = 0; k < n; k++) {
      const f = prof[2 * k], w = prof[2 * k + 1] * HALF;
      right.push(api.coord([x + w, f]));
      left.unshift(api.coord([x - w, f]));
    }
    if (prof[1] === 0) left.pop();
    if (prof[prof.length - 1] === 0) left.shift();
    return {
      type: 'polygon',
      shape: { points: right.concat(left), smooth: 0.3 },
      style: { fill: 'none', stroke: color, lineWidth: 3, lineJoin: 'round' }
    };
  };
}

const grid = [], xAxis = [], yAxis = [], series = [];
panels.forEach((name, i) => {
  const col = i % NCOL, row = Math.floor(i / NCOL);
  const left = LEFT0 + col * COLP, top = TOP0 + row * ROWP;
  grid.push({ left: left, top: top + SH, width: PW, height: PH });
  grid.push({ left: left, top: top, width: PW, height: SH });
  const tickStyle = { color: '#333333', width: 2.2 };
  xAxis.push({ gridIndex: 2 * i, type: 'value', min: 0.4, max: 5.6,
    axisLine: { show: false }, splitLine: { show: false }, axisLabel: { show: false },
    axisTick: { show: true, length: 7.3, customValues: xTicks, lineStyle: tickStyle } });
  yAxis.push({ gridIndex: 2 * i, type: 'value', min: 0, max: 100,
    axisLine: { show: false }, splitLine: { show: false }, axisLabel: { show: false },
    axisTick: { show: true, length: 7.3, customValues: yTicks[i], lineStyle: tickStyle } });
  xAxis.push({ gridIndex: 2 * i + 1, type: 'value', min: 0, max: 1, show: false });
  yAxis.push({ gridIndex: 2 * i + 1, type: 'value', min: 0, max: 1, show: false });
  series.push({
    type: 'custom', xAxisIndex: 2 * i + 1, yAxisIndex: 2 * i + 1, clip: true, silent: true,
    data: [[0.5, 0.5]],
    renderItem: function (params, api) {
      const p0 = api.coord([0, 1]), p1 = api.coord([1, 0]), c = api.coord([0.5, 0.5]);
      return { type: 'group', children: [
        { type: 'rect', shape: { x: p0[0], y: p0[1], width: p1[0] - p0[0], height: p1[1] - p0[1] }, style: { fill: '#D4D4D4' } },
        { type: 'text', x: c[0], y: c[1] + 1, style: { text: name, fill: '#1A1A1A', font: '23.5px ' + FONT, align: 'center', verticalAlign: 'middle' } }
      ] };
    }
  });
  classes.forEach((cls, c) => {
    series.push({
      type: 'custom', name: cls, xAxisIndex: 2 * i, yAxisIndex: 2 * i, silent: true,
      itemStyle: { color: classColors[c] },
      data: [[xTicks[c], i]],
      renderItem: violinRenderer(profiles[c][i], classColors[c])
    });
  });
});

const chart = echarts.init(document.getElementById('c'), null, { renderer: 'canvas', width: 1920, height: 1344 });
chart.setOption({
  animation: false,
  backgroundColor: '#ffffff',
  grid: grid, xAxis: xAxis, yAxis: yAxis, series: series,
  legend: {
    data: classes.map((cls, c) => ({
      name: cls, icon: 'rect',
      itemStyle: { color: '#ffffff', borderColor: classColors[c], borderWidth: 2.8 }
    })),
    orient: 'vertical', left: 1807, top: 579,
    itemWidth: 44, itemHeight: 43, itemGap: 0, selectedMode: false,
    textStyle: { fontSize: 23.5, color: '#1A1A1A', fontFamily: FONT, padding: [0, 0, 0, 11] }
  },
  graphic: [
    { type: 'text', x: 1808, y: 553, style: { text: 'classe', font: '29.3px ' + FONT, fill: '#000', align: 'left', verticalAlign: 'middle' } },
    { type: 'text', x: 911, y: 1314, style: { text: 'classe', font: '29.3px ' + FONT, fill: '#000', align: 'center', verticalAlign: 'middle' } },
    { type: 'text', x: 27, y: 672, rotation: Math.PI / 2, style: { text: 'vals', font: '29.3px ' + FONT, fill: '#000', align: 'center', verticalAlign: 'middle' } }
  ]
});
</script>
</body></html>
